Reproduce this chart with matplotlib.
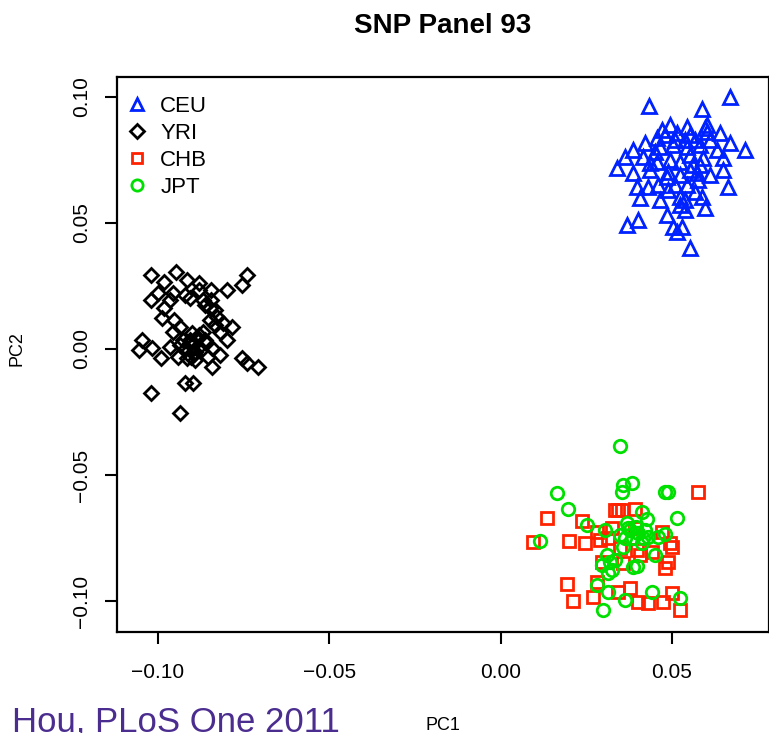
import matplotlib
matplotlib.use("Agg")
import matplotlib.pyplot as plt

plt.rcParams['font.family'] = ['Liberation Sans', 'DejaVu Sans']

# PC1 / PC2 coordinates per population
ceu_x = [0.0668, 0.0432, 0.0587, 0.0493, 0.0543, 0.0601, 0.0470, 0.0455, 0.0514, 0.0552,
         0.0601, 0.0639, 0.0420, 0.0668, 0.0712, 0.0385, 0.0362, 0.0339, 0.0414, 0.0464,
         0.0502, 0.0543, 0.0581, 0.0631, 0.0648, 0.0385, 0.0435, 0.0455, 0.0493, 0.0523,
         0.0560, 0.0590, 0.0648, 0.0610, 0.0572, 0.0523, 0.0485, 0.0435, 0.0397, 0.0429,
         0.0458, 0.0487, 0.0543, 0.0575, 0.0663, 0.0406, 0.0523, 0.0537, 0.0587, 0.0595,
         0.0485, 0.0368, 0.0400, 0.0502, 0.0528, 0.0514, 0.0552, 0.0479, 0.0508, 0.0537,
         0.0566, 0.0595, 0.0610, 0.0450, 0.0552, 0.0581, 0.0487, 0.0508, 0.0552, 0.0523,
         0.0537, 0.0566, 0.0464]
ceu_y = [0.1000, 0.0964, 0.0952, 0.0889, 0.0881, 0.0889, 0.0869, 0.0837, 0.0857, 0.0849,
         0.0861, 0.0857, 0.0817, 0.0817, 0.0790, 0.0790, 0.0762, 0.0718, 0.0762, 0.0802,
         0.0809, 0.0802, 0.0809, 0.0790, 0.0758, 0.0698, 0.0738, 0.0742, 0.0750, 0.0742,
         0.0730, 0.0758, 0.0710, 0.0690, 0.0698, 0.0690, 0.0683, 0.0710, 0.0643, 0.0643,
         0.0651, 0.0631, 0.0651, 0.0671, 0.0643, 0.0599, 0.0603, 0.0591, 0.0603, 0.0559,
         0.0532, 0.0492, 0.0512, 0.0484, 0.0484, 0.0464, 0.0401, 0.0849, 0.0829, 0.0829,
         0.0829, 0.0877, 0.0829, 0.0782, 0.0770, 0.0730, 0.0702, 0.0651, 0.0710, 0.0571,
         0.0552, 0.0623, 0.0591]

yri_x = [-0.1019, -0.0946, -0.0981, -0.0914, -0.0879, -0.0741, -0.0756, -0.0800, -0.0844, -0.1001,
         -0.1019, -0.0957, -0.0908, -0.0870, -0.0981, -0.0987, -0.0952, -0.0849, -0.0829, -0.0811,
         -0.0785, -0.0937, -0.0957, -0.0902, -0.0870, -0.0820, -0.0800, -0.1048, -0.1054, -0.1016,
         -0.0966, -0.0928, -0.0917, -0.0879, -0.0841, -0.0990, -0.0943, -0.0914, -0.0855, -0.0820,
         -0.0841, -0.0756, -0.0739, -0.0709, -0.0922, -0.0899, -0.1019, -0.0937, -0.0937, -0.0908,
         -0.0893, -0.0864, -0.0835, -0.0966, -0.0879, -0.0922, -0.0893, -0.0908, -0.0884, -0.0864,
         -0.0849, -0.0835, -0.0844, -0.0900, -0.0895, -0.0880, -0.0860, -0.0905]
yri_y = [0.0294, 0.0306, 0.0266, 0.0274, 0.0262, 0.0294, 0.0254, 0.0234, 0.0234, 0.0222,
         0.0194, 0.0222, 0.0202, 0.0194, 0.0163, 0.0123, 0.0115, 0.0163, 0.0127, 0.0103,
         0.0087, 0.0087, 0.0067, 0.0063, 0.0067, 0.0067, 0.0036, 0.0036, -0.0004, 0.0004,
         0.0008, 0.0036, 0.0004, 0.0008, 0.0004, -0.0036, -0.0032, -0.0036, -0.0032, -0.0024,
         -0.0071, -0.0036, -0.0056, -0.0071, -0.0135, -0.0135, -0.0175, -0.0254, 0.0016, 0.0036,
         -0.0012, 0.0175, 0.0095, 0.0194, 0.0234, 0.0214, -0.0044, 0.0024, 0.0044, 0.0036,
         0.0115, 0.0155, 0.0194, 0.0010, -0.0020, 0.0055, 0.0025, -0.0030]

chb_x = [0.0575, 0.0134, 0.0333, 0.0353, 0.0391, 0.0236, 0.0280, 0.0324, 0.0470, 0.0093,
         0.0198, 0.0245, 0.0312, 0.0391, 0.0493, 0.0499, 0.0347, 0.0397, 0.0441, 0.0295,
         0.0356, 0.0487, 0.0479, 0.0193, 0.0280, 0.0377, 0.0342, 0.0499, 0.0210, 0.0269,
         0.0400, 0.0429, 0.0473, 0.0523, 0.0342, 0.0289, 0.0406]
chb_y = [-0.0567, -0.0671, -0.0639, -0.0639, -0.0635, -0.0683, -0.0726, -0.0710, -0.0726, -0.0766,
         -0.0762, -0.0770, -0.0750, -0.0710, -0.0770, -0.0786, -0.0790, -0.0798, -0.0806, -0.0845,
         -0.0849, -0.0845, -0.0869, -0.0932, -0.0925, -0.0948, -0.0964, -0.0968, -0.1000, -0.0984,
         -0.1004, -0.1008, -0.1004, -0.1036, -0.0639, -0.0758, -0.0817]

jpt_x = [0.0347, 0.0356, 0.0382, 0.0353, 0.0163, 0.0479, 0.0487, 0.0196, 0.0412, 0.0426,
         0.0514, 0.0251, 0.0304, 0.0368, 0.0377, 0.0400, 0.0114, 0.0362, 0.0385, 0.0414,
         0.0429, 0.0458, 0.0479, 0.0412, 0.0356, 0.0309, 0.0450, 0.0295, 0.0318, 0.0333,
         0.0324, 0.0312, 0.0385, 0.0397, 0.0280, 0.0312, 0.0362, 0.0441, 0.0523, 0.0298,
         0.0371, 0.0394, 0.0420, 0.0347]
jpt_y = [-0.0385, -0.0540, -0.0532, -0.0567, -0.0571, -0.0567, -0.0567, -0.0635, -0.0647, -0.0675,
         -0.0671, -0.0698, -0.0718, -0.0690, -0.0718, -0.0730, -0.0762, -0.0750, -0.0750, -0.0750,
         -0.0746, -0.0746, -0.0734, -0.0770, -0.0786, -0.0817, -0.0817, -0.0857, -0.0845, -0.0837,
         -0.0877, -0.0889, -0.0865, -0.0861, -0.0936, -0.0964, -0.0996, -0.0964, -0.0988, -0.1036,
         -0.0710, -0.0706, -0.0718, -0.0738]

xticks = [-0.10, -0.05, 0.00, 0.05]
yticks = [-0.10, -0.05, 0.00, 0.05, 0.10]


def fmt(v):
    return ('%.2f' % v).replace('-', '\u2212')


fig = plt.figure(figsize=(7.69, 7.33), dpi=100)
ax = fig.add_axes([0.1521, 0.1378, 0.8479, 0.7572])

mk = dict(linestyle='none', markerfacecolor='none', markeredgewidth=2.0)
ax.plot(ceu_x, ceu_y, marker='^', markersize=9.5, markeredgecolor='#0022ff', label='CEU', **mk)
ax.plot(yri_x, yri_y, marker='D', markersize=7.5, markeredgecolor='black', label='YRI', **mk)
ax.plot(chb_x, chb_y, marker='s', markersize=8, markeredgecolor='#ff2200', label='CHB', **mk)
ax.plot(jpt_x, jpt_y, marker='o', markersize=9, markeredgecolor='#00e000', label='JPT', **mk)

ax.set_xlim(-0.11197, 0.07831)
ax.set_ylim(-0.1123, 0.10794)
ax.set_xticks(xticks)
ax.set_xticklabels([fmt(v) for v in xticks])
ax.set_yticks(yticks)
ax.set_yticklabels([fmt(v) for v in yticks], rotation=90, va='center')
ax.tick_params(direction='out', length=8.5, width=1.5, labelsize=15)
ax.tick_params(axis='x', pad=14)
ax.tick_params(axis='y', pad=10)
for s in ax.spines.values():
    s.set_linewidth(1.6)

ax.set_xlabel('PC1', fontsize=13)
ax.set_ylabel('PC2', fontsize=13)
ax.xaxis.set_label_coords(0.5, -0.153)
ax.yaxis.set_label_coords(-0.141, 0.51)
ax.set_title('SNP Panel 93', fontsize=20, fontweight='bold', y=1.079, pad=0)

ax.legend(loc='upper left', bbox_to_anchor=(0.0137, 0.966), frameon=False, fontsize=16,
          borderaxespad=0, borderpad=0, handlelength=1.0, handletextpad=0.55,
          labelspacing=0.27, markerscale=0.9)

fig.text(12 / 769, 2 / 733, 'Hou, PLoS One 2011', fontsize=25, color='#4b2d8f', va='baseline')

fig.savefig('out.png', dpi=100)
